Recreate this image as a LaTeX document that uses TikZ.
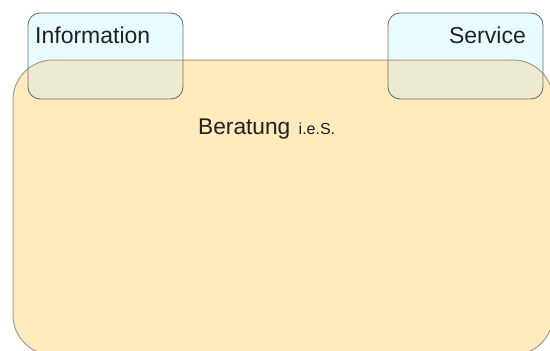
\documentclass[tikz,border=0pt]{standalone}
\usepackage{fontspec}
\setmainfont{Liberation Sans}
\definecolor{bigfill}{HTML}{FFEBBB}
\definecolor{bigline}{HTML}{A89C88}
\definecolor{smallfill}{HTML}{E8FCFF}
\definecolor{smallline}{HTML}{707070}
\definecolor{overlap}{HTML}{EDEBCF}
\definecolor{txt}{HTML}{222222}
\begin{document}
\begin{tikzpicture}[x=1pt,y=-1pt,
  bigbox/.style={rounded corners=40pt},
  smallbox/.style={rounded corners=12pt},
  lbl/.style={inner sep=0pt,anchor=base west,text=txt,font=\fontsize{23}{23}\selectfont}]
\useasboundingbox (0,0) rectangle (550,351);
\begin{scope}
\clip (0,0) rectangle (550,351);
% small box fills
\fill[smallfill,smallbox] (28,13) rectangle (183,99);
\fill[smallfill,smallbox] (388,13) rectangle (543,99);
% big box
\fill[bigfill,bigbox] (13,60) rectangle (553,355);
\begin{scope}
\clip[smallbox] (28,13) rectangle (183,99);
\fill[overlap,bigbox] (13,60) rectangle (553,355);
\end{scope}
\begin{scope}
\clip[smallbox] (388,13) rectangle (543,99);
\fill[overlap,bigbox] (13,60) rectangle (553,355);
\end{scope}
\draw[bigline,line width=1pt,bigbox] (13,60) rectangle (553,355);
\draw[smallline,line width=0.9pt,smallbox] (28,13) rectangle (183,99);
\draw[smallline,line width=0.9pt,smallbox] (388,13) rectangle (543,99);
\end{scope}
\node[lbl] (info) at (35,43) {Information};
\node[lbl,anchor=base east] (serv) at (526,43) {Service};
\node[lbl,font=\fontsize{22.7}{23}\selectfont] (ber) at (198,134) {Beratung};
\node[lbl,font=\fontsize{16}{16}\selectfont,anchor=base west] (ies) at ([xshift=8pt]ber.base east) {i.e.S.};
\end{tikzpicture}
\end{document}
